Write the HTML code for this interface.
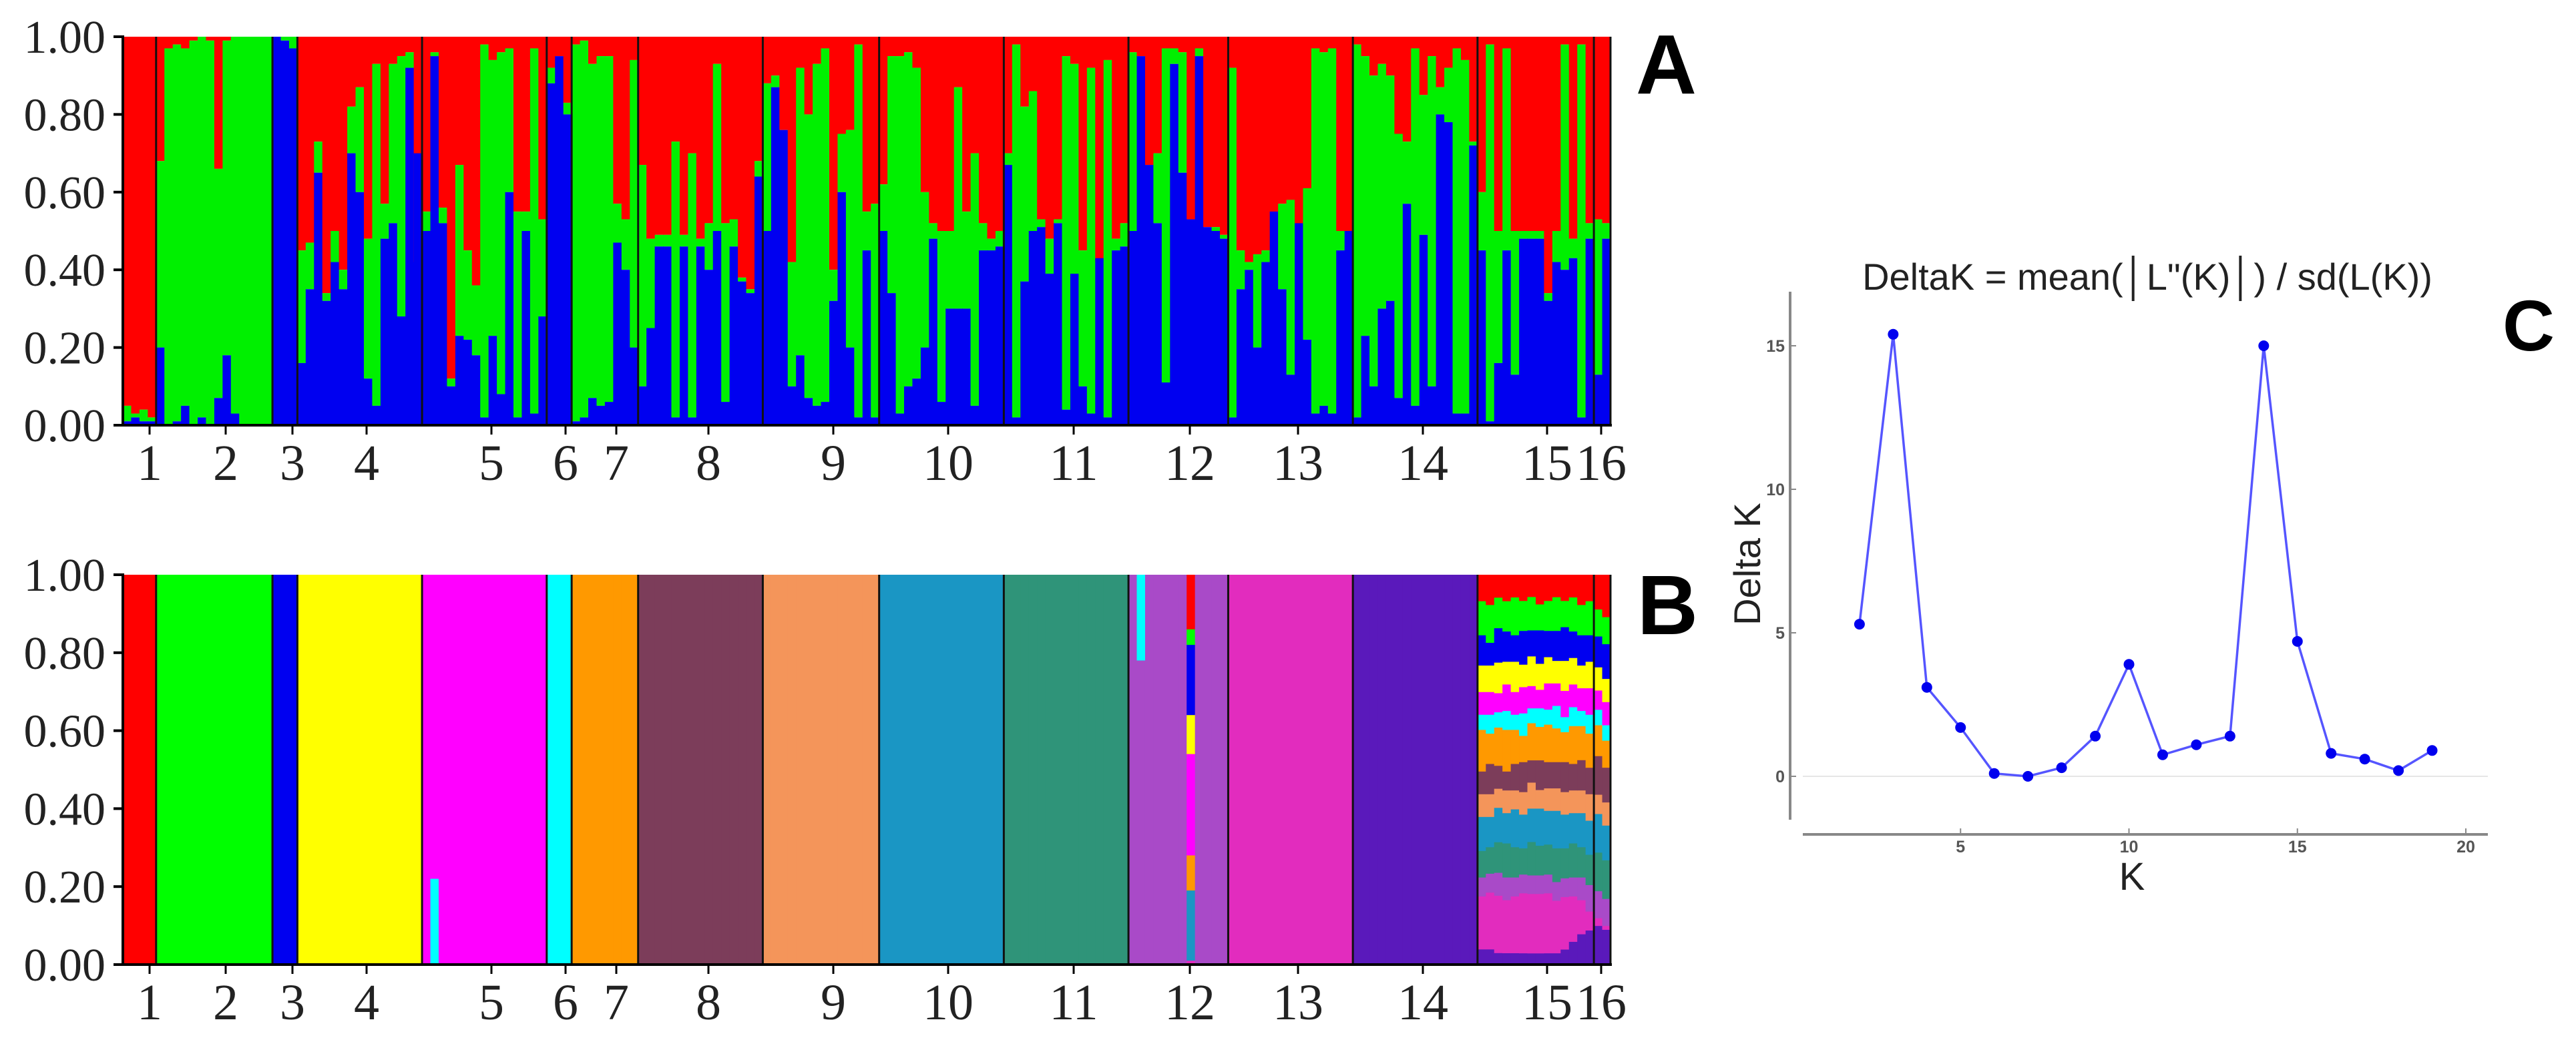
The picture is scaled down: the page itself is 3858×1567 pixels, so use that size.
<!DOCTYPE html>
<html><head><meta charset="utf-8"><style>
html,body{margin:0;padding:0;background:#fff;}
svg{display:block;}
</style></head><body>
<svg id="fig" width="3858" height="1567" viewBox="0 0 3858 1567" xmlns="http://www.w3.org/2000/svg">
<rect width="3858" height="1567" fill="#fff"/>
<g id="panelA"></g>
<g id="panelB"></g>
<g id="panelC"></g>
<text x="2450" y="140" font-family="Liberation Sans, sans-serif" font-weight="bold" font-size="126">A</text>
<text x="2452" y="950" font-family="Liberation Sans, sans-serif" font-weight="bold" font-size="126">B</text>
<text x="3748" y="525" font-family="Liberation Sans, sans-serif" font-weight="bold" font-size="108">C</text>
</svg>
<script>
// ---------- Data ----------
const popLabels = ["1","2","3","4","5","6","7","8","9","10","11","12","13","14","15","16"];
const popLabelX = [224,338,438,549,736,847,923,1061,1248,1420,1608,1782,1944,2131,2317,2398];
const popCounts = [4,14,3,15,15,3,8,15,14,15,15,12,15,15,14,2];
const yTickLabels = ["0.00","0.20","0.40","0.60","0.80","1.00"];
const yTickValues = [0,0.2,0.4,0.6,0.8,1.0];

// Panel A: blue fraction (bottom) and blue+green cumulative (rest red)
const blueA = [
 [0.01,0.02,0.01,0.01],
 [0.2,0,0.01,0.05,0,0.02,0,0.07,0.18,0.03,0,0,0,0],
 [1,0.99,0.97],
 [0.16,0.35,0.65,0.32,0.42,0.35,0.7,0.6,0.12,0.05,0.48,0.52,0.28,0.92,0.7],
 [0.5,0.95,0.52,0.1,0.23,0.22,0.18,0.02,0.23,0.08,0.6,0.02,0.5,0.03,0.28],
 [0.88,0.95,0.8],
 [0.01,0.02,0.07,0.05,0.06,0.47,0.4,0.2],
 [0.1,0.25,0.46,0.46,0.02,0.46,0.02,0.46,0.4,0.5,0.06,0.46,0.37,0.34,0.64],
 [0.5,0.87,0.76,0.1,0.18,0.07,0.05,0.06,0.32,0.6,0.2,0.02,0.45,0.02],
 [0.5,0.34,0.03,0.1,0.12,0.2,0.48,0.06,0.3,0.3,0.3,0.05,0.45,0.45,0.46],
 [0.67,0.02,0.37,0.5,0.51,0.39,0.52,0.04,0.39,0.1,0.03,0.43,0.02,0.45,0.46],
 [0.5,0.95,0.67,0.52,0.11,0.93,0.65,0.53,0.95,0.51,0.5,0.48],
 [0.02,0.35,0.4,0.2,0.42,0.55,0.35,0.13,0.52,0.22,0.03,0.05,0.03,0.45,0.5],
 [0.02,0.23,0.1,0.3,0.32,0.07,0.57,0.05,0.49,0.1,0.8,0.78,0.03,0.03,0.72],
 [0.45,0.01,0.16,0.45,0.13,0.48,0.48,0.48,0.32,0.42,0.4,0.43,0.02,0.48],
 [0.13,0.48]
];
const topA = [
 [0.05,0.03,0.04,0.02],
 [0.68,0.97,0.98,0.97,0.99,1,0.99,0.66,0.99,1,1,1,1,1],
 [1,1,1],
 [0.45,0.47,0.73,0.34,0.5,0.4,0.82,0.87,0.48,0.93,0.57,0.93,0.95,0.96,0.42],
 [0.55,0.96,0.56,0.12,0.67,0.45,0.36,0.98,0.94,0.96,0.97,0.55,0.55,0.97,0.53],
 [0.92,0.95,0.83],
 [0.98,0.99,0.93,0.95,0.95,0.57,0.53,0.94],
 [0.67,0.48,0.49,0.49,0.73,0.49,0.7,0.48,0.52,0.93,0.52,0.53,0.38,0.35,0.68],
 [0.88,0.9,0.76,0.42,0.92,0.8,0.93,0.97,0.4,0.75,0.76,0.98,0.55,0.57],
 [0.62,0.95,0.95,0.96,0.92,0.6,0.52,0.5,0.5,0.87,0.55,0.7,0.52,0.48,0.5],
 [0.7,0.98,0.82,0.86,0.53,0.48,0.53,0.95,0.93,0.45,0.92,0.42,0.94,0.48,0.52],
 [0.96,0.95,0.67,0.7,0.97,0.97,0.96,0.53,0.97,0.51,0.51,0.49],
 [0.92,0.45,0.42,0.44,0.45,0.41,0.57,0.58,0.43,0.61,0.97,0.96,0.97,0.5,0.5],
 [0.98,0.95,0.9,0.93,0.9,0.75,0.73,0.97,0.85,0.95,0.87,0.92,0.97,0.94,0.73],
 [0.6,0.98,0.5,0.97,0.5,0.5,0.5,0.5,0.34,0.5,0.98,0.48,0.98,0.52],
 [0.53,0.52]
];

// Panel B
const clusterColors = ["#ff0000","#00ff00","#0000f0","#ffff00","#ff00ff","#00ffff","#ff9900","#7c3d5a","#f4955a","#1a96c4","#2f9479","#a94ac8","#e22cbe","#5a19bb"];
const popClusterB = [0,1,2,3,4,5,6,7,8,9,10,11,12,13,-1,-1];
const mixedB = [
 [4,1,[0,0,0,0,0.78,0.22,0,0,0,0,0,0,0,0]],
 [11,1,[0,0,0,0,0,0.22,0,0,0,0,0,0.78,0,0]],
 [11,7,[0.14,0.04,0.18,0.1,0.26,0,0.09,0,0,0.18,0,0,0.01,0]],
 [14,0,[0.07,0.09,0.08,0.07,0.06,0.04,0.11,0.06,0.06,0.09,0.07,0.05,0.14,0.04]],
 [14,1,[0.08,0.1,0.06,0.07,0.06,0.05,0.08,0.08,0.06,0.08,0.07,0.05,0.15,0.04]],
 [14,2,[0.06,0.08,0.09,0.08,0.05,0.04,0.1,0.06,0.05,0.09,0.08,0.06,0.15,0.03]],
 [14,3,[0.07,0.08,0.08,0.06,0.07,0.05,0.11,0.05,0.06,0.08,0.09,0.06,0.14,0.03]],
 [14,4,[0.06,0.1,0.07,0.08,0.06,0.04,0.09,0.07,0.05,0.1,0.08,0.05,0.15,0.03]],
 [14,5,[0.07,0.08,0.09,0.06,0.07,0.06,0.07,0.08,0.06,0.09,0.07,0.05,0.16,0.03]],
 [14,6,[0.06,0.09,0.07,0.08,0.06,0.04,0.1,0.06,0.07,0.09,0.09,0.05,0.16,0.03]],
 [14,7,[0.08,0.07,0.09,0.07,0.05,0.05,0.09,0.08,0.05,0.1,0.08,0.05,0.16,0.03]],
 [14,8,[0.07,0.08,0.07,0.07,0.07,0.04,0.1,0.07,0.06,0.09,0.08,0.05,0.16,0.03]],
 [14,9,[0.06,0.09,0.08,0.06,0.06,0.06,0.09,0.07,0.06,0.1,0.09,0.05,0.14,0.03]],
 [14,10,[0.07,0.07,0.09,0.08,0.07,0.04,0.08,0.08,0.06,0.09,0.08,0.05,0.14,0.04]],
 [14,11,[0.06,0.09,0.07,0.07,0.06,0.05,0.1,0.07,0.06,0.08,0.09,0.05,0.12,0.06]],
 [14,12,[0.08,0.08,0.08,0.06,0.06,0.04,0.09,0.08,0.06,0.09,0.08,0.06,0.09,0.08]],
 [14,13,[0.07,0.09,0.07,0.07,0.07,0.05,0.09,0.07,0.07,0.09,0.08,0.07,0.05,0.09]],
 [15,0,[0.09,0.07,0.08,0.06,0.05,0.04,0.08,0.1,0.05,0.1,0.1,0.07,0.02,0.1]],
 [15,1,[0.11,0.07,0.09,0.06,0.06,0.04,0.07,0.09,0.06,0.09,0.1,0.07,0.01,0.09]]
];

// Panel C: Delta K
const kValues = [2,3,4,5,6,7,8,9,10,11,12,13,14,15,16,17,18,19];
const deltaK = [5.3,15.4,3.1,1.7,0.1,0.0,0.3,1.4,3.9,0.75,1.1,1.4,15.0,4.7,0.8,0.6,0.2,0.9];
const cXTicks = [5,10,15,20];
const cYTicks = [0,5,10,15];

// ---------- Drawing ----------
const NS = "http://www.w3.org/2000/svg";
function mk(tag, attrs, parent){ const e=document.createElementNS(NS,tag); for(const k in attrs) e.setAttribute(k,attrs[k]); parent.appendChild(e); return e; }

const X0=184, X1=2412;
const totalN = popCounts.reduce((a,b)=>a+b,0);
const indW = (X1-X0)/totalN;
function indX(i){ return X0 + i*indW; }

function drawAxes(g, yBottom, yTop, prefix){
  const yS = v => yBottom - v*(yBottom-yTop);
  let c=0;
  for(let p=0;p<popCounts.length-1;p++){
    c+=popCounts[p];
    const l=mk("line",{x1:indX(c),x2:indX(c),y1:yTop,y2:yBottom,stroke:"#111","stroke-width":3},g);
    
    
  }
  const ax=mk("line",{x1:X0,x2:X0,y1:yTop-2,y2:yBottom+2,stroke:"#000","stroke-width":4},g);
  
  
  const rt=mk("line",{x1:X1,x2:X1,y1:yTop,y2:yBottom,stroke:"#111","stroke-width":3},g);
  
  
  const bx=mk("line",{x1:X0-14,x2:X1+2,y1:yBottom,y2:yBottom,stroke:"#000","stroke-width":4},g);
  
  
  yTickValues.forEach((v,i)=>{
    const t=mk("line",{x1:X0-14,x2:X0,y1:yS(v),y2:yS(v),stroke:"#000","stroke-width":4},g);
    
    
    const tx=mk("text",{x:158,y:yS(v)+24,"text-anchor":"end","font-family":"Liberation Serif, serif","font-size":70,fill:"#222"},g);
    tx.textContent=yTickLabels[i];
    
    
  });
  popLabels.forEach((lab,i)=>{
    const t=mk("line",{x1:popLabelX[i],x2:popLabelX[i],y1:yBottom,y2:yBottom+14,stroke:"#000","stroke-width":3},g);
    
    
    const tx=mk("text",{x:popLabelX[i],y:yBottom+82,"text-anchor":"middle","font-family":"Liberation Serif, serif","font-size":76,fill:"#222"},g);
    tx.textContent=lab;
    
    
  });
}

// Panel A
(function(){
  const g=document.getElementById("panelA");
  const yB=637, yT=55, yS=v=>yB-v*(yB-yT);
  let idx=0;
  blueA.forEach((pop,p)=>{
    pop.forEach((b,j)=>{
      const t=topA[p][j], x=indX(idx), w=indW+0.6;
      const r=mk("rect",{x:x,y:yT,width:w,height:yS(t)-yT,fill:"#ff0000"},g);
      
      
      const gr=mk("rect",{x:x,y:yS(t),width:w,height:yS(b)-yS(t),fill:"#00f000"},g);
      
      
      const bl=mk("rect",{x:x,y:yS(b),width:w,height:yB-yS(b),fill:"#0000f0"},g);
      
      
      idx++;
    });
  });
  drawAxes(g,yB,yT,'panel-a');
})();

// Panel B
(function(){
  const g=document.getElementById("panelB");
  const yB=1445, yT=861;
  let idx=0;
  popCounts.forEach((n,p)=>{
    for(let j=0;j<n;j++){
      let mem=null;
      mixedB.forEach(m=>{ if(m[0]===p && m[1]===j) mem=m[2]; });
      if(!mem){ mem=new Array(14).fill(0); if(popClusterB[p]>=0) mem[popClusterB[p]]=1; else mem[13]=1; }
      const s=mem.reduce((a,b)=>a+b,0);
      let cum=0; const x=indX(idx), w=indW+0.6;
      mem.forEach((v,k)=>{
        if(v<=0) return;
        const y1=yT+cum/s*(yB-yT); cum+=v; const y2=yT+cum/s*(yB-yT);
        const r=mk("rect",{x:x,y:y1,width:w,height:y2-y1+0.5,fill:clusterColors[k]},g);
        
        
      });
      idx++;
    }
  });
  drawAxes(g,yB,yT,'panel-b');
})();

// Panel C
(function(){
  const g=document.getElementById("panelC");
  const xS=k=>2684+k*50.45, yS=v=>1163-v*43.0;
  const grid=mk("line",{x1:2700,x2:3726,y1:yS(0),y2:yS(0),stroke:"#e6e6e6","stroke-width":2},g);
  
  
  const ya=mk("line",{x1:2681,x2:2681,y1:437,y2:1228,stroke:"#888","stroke-width":4},g);
  
  
  const xa=mk("line",{x1:2700,x2:3726,y1:1250,y2:1250,stroke:"#888","stroke-width":4},g);
  
  
  cYTicks.forEach(v=>{
    const t=mk("line",{x1:2681,x2:2690,y1:yS(v),y2:yS(v),stroke:"#888","stroke-width":2},g);
    
    
    const tx=mk("text",{x:2673,y:yS(v)+9,"text-anchor":"end","font-family":"Liberation Sans, sans-serif","font-weight":"bold","font-size":25,fill:"#555"},g);
    tx.textContent=String(v);
    
    
  });
  cXTicks.forEach(v=>{
    const t=mk("line",{x1:xS(v),x2:xS(v),y1:1241,y2:1250,stroke:"#888","stroke-width":2},g);
    
    
    const tx=mk("text",{x:xS(v),y:1277,"text-anchor":"middle","font-family":"Liberation Sans, sans-serif","font-weight":"bold","font-size":25,fill:"#555"},g);
    tx.textContent=String(v);
    
    
  });
  const pts=kValues.map((k,i)=>xS(k)+","+yS(deltaK[i])).join(" ");
  const pl=mk("polyline",{points:pts,fill:"none",stroke:"#5555ff","stroke-width":3.5},g);
  
  
  kValues.forEach((k,i)=>{
    const c=mk("circle",{cx:xS(k),cy:yS(deltaK[i]),r:8,fill:"#0000ee"},g);
    
    
  });
  const title=mk("text",{x:3216,y:434,"text-anchor":"middle","font-family":"Liberation Sans, sans-serif","font-size":56,fill:"#222"},g);
  title.textContent="DeltaK = mean(│L\"(K)│) / sd(L(K))";
  
  
  const yl=mk("text",{x:0,y:0,"text-anchor":"middle","font-family":"Liberation Sans, sans-serif","font-size":56,fill:"#222",transform:"translate(2636,845) rotate(-90)"},g);
  yl.textContent="Delta K";
  
  
  const xl=mk("text",{x:3193,y:1333,"text-anchor":"middle","font-family":"Liberation Sans, sans-serif","font-size":58,fill:"#222"},g);
  xl.textContent="K";
  
  
})();
</script>
</body></html>
